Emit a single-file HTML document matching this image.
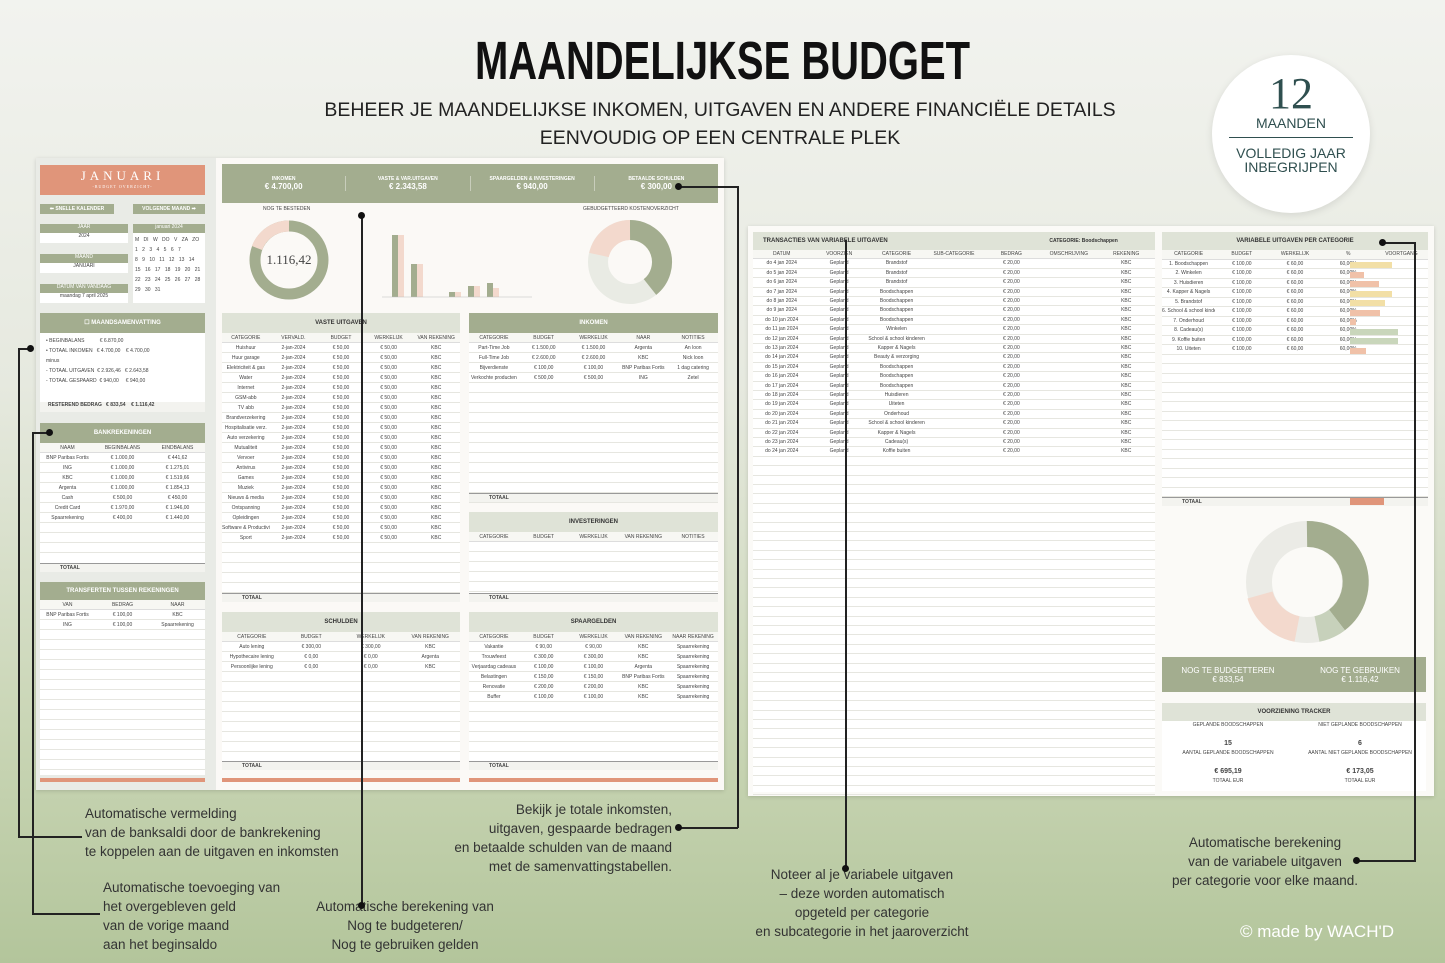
<!DOCTYPE html><html><head><meta charset="utf-8"><style>
*{margin:0;padding:0;box-sizing:border-box}
body{width:1445px;height:963px;overflow:hidden;position:relative;font-family:"Liberation Sans",sans-serif;background:linear-gradient(180deg,#f2f3ef 0%,#e6e9df 40%,#cad6b6 75%,#b3c59b 100%)}
.a{position:absolute}
.g{background:#a3ad8f;color:#fff}
.lg{background:#dfe3d7;color:#333}
.sal{background:#e0957a;color:#fff}
.w{background:#fff}
.t{font-size:5px;color:#444;white-space:nowrap}
.h{font-weight:bold;font-size:6px;text-align:center}
.ann{position:absolute;font-size:13.5px;color:#333;text-align:center;line-height:19px;white-space:nowrap}
.ln{position:absolute;background:#222}
.dot{position:absolute;width:7px;height:7px;border-radius:50%;background:#111}
.row{position:absolute;left:0;right:0;border-bottom:1px solid #e6e6e0}
</style></head><body>
<div class="a" style="left:0;width:1445px;top:30px;text-align:center;font-family:'Liberation Sans Narrow','Liberation Sans',sans-serif;font-weight:bold;font-size:54px;letter-spacing:0px;color:#111;transform:scaleX(.74)">MAANDELIJKSE BUDGET</div>
<div class="a" style="left:0;width:1440px;top:96px;text-align:center;font-size:19.5px;color:#222;line-height:28px">BEHEER JE MAANDELIJKSE INKOMEN, UITGAVEN EN ANDERE FINANCIËLE DETAILS<br>EENVOUDIG OP EEN CENTRALE PLEK</div>
<div class="a" style="left:1212px;top:55px;width:158px;height:158px;border-radius:50%;background:#fff;box-shadow:0 2px 8px rgba(0,0,0,.1);text-align:center;color:#2f4f4f">
<div style="font-family:'Liberation Serif',serif;font-size:44px;margin-top:18px;line-height:42px">12</div>
<div style="font-size:14px;line-height:16px">MAANDEN</div>
<div style="width:124px;height:1px;background:#2f4f4f;margin:6px auto 8px"></div>
<div style="font-size:14px;line-height:14px">VOLLEDIG JAAR<br>INBEGRIJPEN</div></div>

<!-- left sheet -->
<div class="a" style="left:36px;top:158px;width:688px;height:632px;background:#e9ebe6;box-shadow:0 1px 4px rgba(0,0,0,.15)"></div>
<div class="a" style="left:216px;top:158px;width:508px;height:632px;background:#fbf9f6"></div>
<div class="a sal" style="left:40px;top:165px;width:165px;height:30px;text-align:center;font-family:'Liberation Serif',serif;font-size:13px;letter-spacing:4px;padding-top:3px">JANUARI<div style="font-size:4px;letter-spacing:1px">-BUDGET OVERZICHT-</div></div>
<div class="a g h" style="left:40px;top:204px;width:74px;height:10px;font-size:5px;line-height:10px">⬅ SNELLE KALENDER</div>
<div class="a g h" style="left:133px;top:204px;width:72px;height:10px;font-size:5px;line-height:10px">VOLGENDE MAAND ➡</div>
<div class="a g t" style="left:40px;top:224px;width:88px;height:9px;text-align:center;color:#fff">JAAR</div><div class="a w t" style="left:40px;top:233px;width:88px;height:10px;text-align:center">2024</div>
<div class="a g t" style="left:40px;top:254px;width:88px;height:9px;text-align:center;color:#fff">MAAND</div><div class="a w t" style="left:40px;top:263px;width:88px;height:10px;text-align:center">JANUARI</div>
<div class="a g t" style="left:40px;top:284px;width:88px;height:9px;text-align:center;color:#fff">DATUM VAN VANDAAG</div><div class="a w t" style="left:40px;top:293px;width:88px;height:10px;text-align:center">maandag 7 april 2025</div>
<div class="a w" style="left:133px;top:224px;width:72px;height:79px"><div class="g t" style="height:9px;text-align:center;color:#fff">januari 2024</div>
<div class="t" style="padding:2px;line-height:10px;word-spacing:3px">M DI W DO V ZA ZO<br>1 2 3 4 5 6 7<br>8 9 10 11 12 13 14<br>15 16 17 18 19 20 21<br>22 23 24 25 26 27 28<br>29 30 31</div></div>

<div class="a w" style="left:40px;top:313px;width:165px;height:99px"><div class="g h" style="height:20px;line-height:20px">☐ MAANDSAMENVATTING</div>
<div class="t" style="padding:3px 6px;line-height:10px">• BEGINBALANS &nbsp;&nbsp;&nbsp;&nbsp;&nbsp;&nbsp;&nbsp;&nbsp;&nbsp;&nbsp;€ 6.870,00<br>• TOTAAL INKOMEN &nbsp;&nbsp;€ 4.700,00 &nbsp;&nbsp;&nbsp;€ 4.700,00<br>minus<br>- TOTAAL UITGAVEN &nbsp;€ 2.926,46 &nbsp;&nbsp;€ 2.643,58<br>- TOTAAL GESPAARD &nbsp;€ 940,00 &nbsp;&nbsp;&nbsp;&nbsp;€ 940,00</div>
<div class="t" style="position:absolute;bottom:0;left:0;right:0;height:10px;background:#f3f3ef;font-weight:bold;padding-left:8px">RESTEREND BEDRAG &nbsp;&nbsp;€ 833,54 &nbsp;&nbsp;&nbsp;€ 1.116,42</div></div>

<div class="a w" style="left:40px;top:423px;width:165px;height:149px" id="bank"><div class="g h" style="height:20px;line-height:20px">BANKREKENINGEN</div></div>
<div class="a w" style="left:40px;top:582px;width:165px;height:193px" id="tr"><div class="g h" style="height:18px;line-height:18px">TRANSFERTEN TUSSEN REKENINGEN</div></div>
<div class="a sal" style="left:40px;top:778px;width:165px;height:4px"></div>
<div class="a sal" style="left:222px;top:778px;width:238px;height:4px"></div>
<div class="a sal" style="left:469px;top:778px;width:249px;height:4px"></div>

<div class="a g" style="left:222px;top:164px;width:496px;height:39px;display:flex;align-items:center;text-align:center;font-weight:bold">
<div style="flex:1"><div style="font-size:5px">INKOMEN</div><div style="font-size:8px">€ 4.700,00</div></div>
<div style="flex:1;border-left:1px solid #c8cdbb"><div style="font-size:5px">VASTE &amp; VAR.UITGAVEN</div><div style="font-size:8px">€ 2.343,58</div></div>
<div style="flex:1;border-left:1px solid #c8cdbb"><div style="font-size:5px">SPAARGELDEN &amp; INVESTERINGEN</div><div style="font-size:8px">€ 940,00</div></div>
<div style="flex:1;border-left:1px solid #c8cdbb"><div style="font-size:5px">BETAALDE SCHULDEN</div><div style="font-size:8px">€ 300,00</div></div></div>
<div class="a t" style="left:263px;top:206px">NOG TE BESTEDEN</div><div class="a t" style="left:583px;top:206px">GEBUDGETTEERD KOSTENOVERZICHT</div>
<svg class="a" style="left:222px;top:210px" width="496" height="95">
<circle cx="67" cy="50" r="34" fill="none" stroke="#a3ad8f" stroke-width="11"/>
<path d="M67 16 A34 34 0 0 0 35 38" fill="none" stroke="#f3d9cd" stroke-width="11"/>
<text x="67" y="54" font-family="Liberation Serif" font-size="13" text-anchor="middle" fill="#444">1.116,42</text>
<g fill="#a3ad8f"><rect x="170" y="25" width="6" height="62"/><rect x="189" y="54" width="6" height="33"/><rect x="227" y="82" width="6" height="5"/><rect x="246" y="76" width="6" height="11"/><rect x="265" y="73" width="6" height="14"/></g>
<g fill="#f3d9cd"><rect x="176" y="25" width="6" height="62"/><rect x="195" y="54" width="6" height="33"/><rect x="233" y="82" width="6" height="5"/><rect x="252" y="76" width="6" height="11"/><rect x="271" y="78" width="6" height="9"/></g>
<line x1="160" y1="87" x2="310" y2="87" stroke="#bbb" stroke-width=".5"/>
<circle cx="408" cy="52" r="32" fill="none" stroke="#e9ebe4" stroke-width="20"/>
<path d="M408 20 A32 32 0 0 1 428 77" fill="none" stroke="#a3ad8f" stroke-width="20"/>
<path d="M408 20 A32 32 0 0 0 377 45" fill="none" stroke="#f3d9cd" stroke-width="20"/>
</svg>

<div class="a w" style="left:222px;top:313px;width:238px;height:289px" id="vu"><div class="lg h" style="height:20px;line-height:20px">VASTE UITGAVEN</div></div>
<div class="a w" style="left:469px;top:313px;width:249px;height:189px" id="ink"><div class="g h" style="height:20px;line-height:20px">INKOMEN</div></div>
<div class="a w" style="left:469px;top:512px;width:249px;height:90px" id="inv"><div class="lg h" style="height:20px;line-height:20px">INVESTERINGEN</div></div>
<div class="a w" style="left:222px;top:612px;width:238px;height:158px" id="sch"><div class="lg h" style="height:20px;line-height:20px">SCHULDEN</div></div>
<div class="a w" style="left:469px;top:612px;width:249px;height:158px" id="spa"><div class="lg h" style="height:20px;line-height:20px">SPAARGELDEN</div></div>

<!-- right sheet -->
<div class="a" style="left:748px;top:226px;width:686px;height:570px;background:#fbfaf7;box-shadow:0 1px 4px rgba(0,0,0,.15)"></div>
<div class="a w" style="left:753px;top:232px;width:402px;height:560px" id="trx"><div class="lg" style="height:18px;font-weight:bold;font-size:6px;line-height:18px;padding-left:10px">TRANSACTIES VAN VARIABELE UITGAVEN <span style="margin-left:160px;font-size:5px">CATEGORIE: Boodschappen</span></div></div>
<div class="a w" style="left:1162px;top:232px;width:266px;height:274px" id="var"><div class="lg h" style="height:18px;line-height:18px">VARIABELE UITGAVEN PER CATEGORIE</div></div>
<svg class="a" style="left:1162px;top:510px" width="266" height="145">
<circle cx="145" cy="72" r="48" fill="none" stroke="#ebebe6" stroke-width="26"/>
<path d="M145 24 A48 48 0 0 1 175 110" fill="none" stroke="#a3ad8f" stroke-width="26"/>
<path d="M135 119 A48 48 0 0 1 98 85" fill="none" stroke="#f3d9cd" stroke-width="26"/>
<path d="M175 110 A48 48 0 0 1 155 119" fill="none" stroke="#c7d1bb" stroke-width="26"/>
</svg>
<div class="a g" style="left:1162px;top:657px;width:264px;height:35px;display:flex;align-items:center;text-align:center;font-family:'Liberation Sans Narrow',sans-serif;font-size:8px"><div style="flex:1">NOG TE BUDGETTEREN<br>€ 833,54</div><div style="flex:1">NOG TE GEBRUIKEN<br>€ 1.116,42</div></div>
<div class="a w" style="left:1162px;top:703px;width:264px;height:88px"><div class="lg h" style="height:18px;line-height:18px">VOORZIENING TRACKER</div>
<div class="t" style="display:flex;text-align:center;line-height:9px"><div style="flex:1">GEPLANDE BOODSCHAPPEN<br><br><b style="font-size:7px">15</b><br>AANTAL GEPLANDE BOODSCHAPPEN<br><br><b style="font-size:7px">€ 695,19</b><br>TOTAAL EUR</div><div style="flex:1">NIET GEPLANDE BOODSCHAPPEN<br><br><b style="font-size:7px">6</b><br>AANTAL NIET GEPLANDE BOODSCHAPPEN<br><br><b style="font-size:7px">€ 173,05</b><br>TOTAAL EUR</div></div></div>

<!-- annotations -->
<div class="ann" style="left:85px;top:804px;text-align:left">Automatische vermelding<br>van de banksaldi door de bankrekening<br>te koppelen aan de uitgaven en inkomsten</div>
<div class="ann" style="left:103px;top:878px;text-align:left">Automatische toevoeging van<br>het overgebleven geld<br>van de vorige maand<br>aan het beginsaldo</div>
<div class="ann" style="left:405px;top:897px;transform:translateX(-50%)">Automatische berekening van<br>Nog te budgeteren/<br>Nog te gebruiken gelden</div>
<div class="ann" style="left:672px;top:800px;text-align:right;transform:translateX(-100%)">Bekijk je totale inkomsten,<br>uitgaven, gespaarde bedragen<br>en betaalde schulden van de maand<br>met de samenvattingstabellen.</div>
<div class="ann" style="left:862px;top:865px;transform:translateX(-50%)">Noteer al je variabele uitgaven<br>– deze worden automatisch<br>opgeteld per categorie<br>en subcategorie in het jaaroverzicht</div>
<div class="ann" style="left:1265px;top:833px;transform:translateX(-50%)">Automatische berekening<br>van de variabele uitgaven<br>per categorie voor elke maand.</div>
<div class="ann" style="left:1240px;top:922px;color:#fff;font-size:17px">© made by WACH'D</div>

<div class="ln" style="left:18px;top:348px;width:12px;height:1.5px"></div><div class="ln" style="left:18px;top:348px;width:1.5px;height:489px"></div><div class="ln" style="left:18px;top:836px;width:64px;height:1.5px"></div><div class="dot" style="left:27px;top:345px"></div>
<div class="ln" style="left:32px;top:432px;width:18px;height:1.5px"></div><div class="ln" style="left:32px;top:432px;width:1.5px;height:482px"></div><div class="ln" style="left:32px;top:913px;width:68px;height:1.5px"></div><div class="dot" style="left:46px;top:429px"></div>
<div class="ln" style="left:361px;top:215px;width:1.5px;height:690px"></div><div class="dot" style="left:358px;top:212px"></div><div class="dot" style="left:358px;top:902px"></div>
<div class="ln" style="left:678px;top:186px;width:60px;height:1.5px"></div><div class="ln" style="left:737px;top:186px;width:1.5px;height:642px"></div><div class="ln" style="left:678px;top:827px;width:60px;height:1.5px"></div><div class="dot" style="left:675px;top:183px"></div><div class="dot" style="left:675px;top:824px"></div>
<div class="ln" style="left:845px;top:240px;width:1.5px;height:628px"></div><div class="dot" style="left:842px;top:865px"></div>
<div class="ln" style="left:1382px;top:242px;width:34px;height:1.5px"></div><div class="ln" style="left:1414px;top:242px;width:1.5px;height:619px"></div><div class="ln" style="left:1356px;top:860px;width:60px;height:1.5px"></div><div class="dot" style="left:1379px;top:239px"></div><div class="dot" style="left:1353px;top:857px"></div>

<script>
function rows(id,top,h,n,cols,data,tot){var e=document.getElementById(id);var s='';
s+='<div class="t" style="position:absolute;top:'+top+'px;left:0;right:0;height:'+h+'px;display:flex;border-bottom:1px solid #ddd;background:#f7f7f3">'+cols.map(c=>'<div style="flex:1;text-align:center;line-height:'+h+'px">'+c+'</div>').join('')+'</div>';
for(var i=0;i<n;i++){var d=data[i]||[];s+='<div class="t row" style="top:'+(top+h*(i+1))+'px;height:'+h+'px;display:flex">'+cols.map((c,j)=>'<div style="flex:1;text-align:center;line-height:'+h+'px;overflow:hidden">'+(d[j]||'')+'</div>').join('')+'</div>';}
if(tot)s+='<div class="t" style="position:absolute;bottom:0;left:0;right:0;height:9px;border-top:1px solid #999;background:#f3f3ef;font-weight:bold;line-height:9px;padding-left:20px">TOTAAL</div>';
e.insertAdjacentHTML('beforeend',s);}
rows('bank',20,10,10,['NAAM','BEGINBALANS','EINDBALANS'],[['BNP Paribas Fortis','€ 1.000,00','€ 441,62'],['ING','€ 1.000,00','€ 1.275,01'],['KBC','€ 1.000,00','€ 1.519,66'],['Argenta','€ 1.000,00','€ 1.854,13'],['Cash','€ 500,00','€ 450,00'],['Credit Card','€ 1.970,00','€ 1.946,00'],['Spaarrekening','€ 400,00','€ 1.440,00']],1);
rows('tr',18,10,17,['VAN','BEDRAG','NAAR'],[['BNP Paribas Fortis','€ 100,00','KBC'],['ING','€ 100,00','Spaarrekening']]);
var vu=['Huishuur','Huur garage','Elektriciteit & gas','Water','Internet','GSM-abb','TV abb','Brandverzekering','Hospitalisatie verz.','Auto verzekering','Mutualiteit','Vervoer','Antivirus','Games','Muziek','Nieuws & media','Ontspanning','Opleidingen','Software & Productiviteit','Sport'];
rows('vu',20,10,25,['CATEGORIE','VERVALD.','BUDGET','WERKELIJK','VAN REKENING'],vu.map(x=>[x,'2-jan-2024','€ 50,00','€ 50,00','KBC']),1);
rows('ink',20,10,16,['CATEGORIE','BUDGET','WERKELIJK','NAAR','NOTITIES'],[['Part-Time Job','€ 1.500,00','€ 1.500,00','Argenta','An loon'],['Full-Time Job','€ 2.600,00','€ 2.600,00','KBC','Nick loon'],['Bijverdienste','€ 100,00','€ 100,00','BNP Paribas Fortis','1 dag catering'],['Verkochte producten','€ 500,00','€ 500,00','ING','Zetel']],1);
rows('inv',20,10,6,['CATEGORIE','BUDGET','WERKELIJK','VAN REKENING','NOTITIES'],[],1);
rows('sch',20,10,12,['CATEGORIE','BUDGET','WERKELIJK','VAN REKENING'],[['Auto lening','€ 300,00','€ 300,00','KBC'],['Hypothecaire lening','€ 0,00','€ 0,00','Argenta'],['Persoonlijke lening','€ 0,00','€ 0,00','KBC']],1);
rows('spa',20,10,12,['CATEGORIE','BUDGET','WERKELIJK','VAN REKENING','NAAR REKENING'],[['Vakantie','€ 90,00','€ 90,00','KBC','Spaarrekening'],['Trouwfeest','€ 300,00','€ 300,00','KBC','Spaarrekening'],['Verjaardag cadeaus','€ 100,00','€ 100,00','Argenta','Spaarrekening'],['Belastingen','€ 150,00','€ 150,00','BNP Paribas Fortis','Spaarrekening'],['Renovatie','€ 200,00','€ 200,00','KBC','Spaarrekening'],['Buffer','€ 100,00','€ 100,00','KBC','Spaarrekening']],1);
var tx=['Brandstof','Brandstof','Brandstof','Boodschappen','Boodschappen','Boodschappen','Boodschappen','Winkelen','School & school kinderen','Kapper & Nagels','Beauty & verzorging','Boodschappen','Boodschappen','Boodschappen','Huisdieren','Uiteten','Onderhoud','School & school kinderen','Kapper & Nagels','Cadeau(s)','Koffie buiten'];
rows('trx',18,9.4,57,['DATUM','VOORZIEN','CATEGORIE','SUB-CATEGORIE','BEDRAG','OMSCHRIJVING','REKENING'],tx.map((x,i)=>['do '+(4+i)+' jan 2024','Gepland',x,'','€ 20,00','','KBC']));
var vc=['Boodschappen','Winkelen','Huisdieren','Kapper & Nagels','Brandstof','School & school kinderen','Onderhoud','Cadeau(s)','Koffie buiten','Uiteten'];
rows('var',18,9.5,25,['CATEGORIE','BUDGET','WERKELIJK','%','VOORTGANG'],vc.map((x,i)=>[(i+1)+'. '+x,'€ 100,00','€ 60,00','60,00%','']),1);
var bw=[88,29,60,88,73,62,12,100,100,34],bc=['#f2dfa6','#f0c1a8','#f0c1a8','#f2dfa6','#f2dfa6','#f0c1a8','#f0c1a8','#c9d6bb','#c9d6bb','#f0c1a8'];
var v=document.getElementById('var');bw.forEach((w,i)=>{v.insertAdjacentHTML('beforeend','<div style="position:absolute;left:188px;top:'+(28.5+9.5*i+1.5)+'px;width:'+(w*0.48)+'px;height:6px;background:'+bc[i]+'"></div>')});
v.insertAdjacentHTML('beforeend','<div style="position:absolute;left:188px;bottom:1px;width:34px;height:7px;background:#e0957a"></div>');
</script>
</body></html>
